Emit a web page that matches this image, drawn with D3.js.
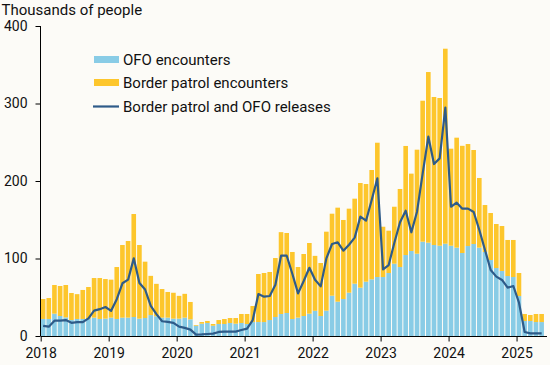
<!DOCTYPE html>
<html>
<head>
<meta charset="utf-8">
<script src="https://cdn.jsdelivr.net/npm/d3@7"></script>
<style>
  html, body { margin: 0; padding: 0; background: #fcfbf7; }
  svg { display: block; font-family: Roboto, "Liberation Sans", sans-serif; }
</style>
</head>
<body>
<svg id="chart" width="550" height="365"></svg>
<script>
// Months Jan 2018 – May 2025
const years = ["2018", "2019", "2020", "2021", "2022", "2023", "2024", "2025"];
const monthNames = ["Jan","Feb","Mar","Apr","May","Jun","Jul","Aug","Sep","Oct","Nov","Dec"];
const months = [];
years.forEach(y => monthNames.forEach((m, i) => { if (!(y === "2025" && i > 4)) months.push(m + " " + y); }));

// OFO encounters (thousands)
const ofo = [
  22, 22, 28.8, 25.8, 24, 20.6, 22, 22, 22, 23.7, 22, 22.4,
  23.7, 22, 23.7, 23.7, 24.5, 22.4, 23.2, 27, 25.4, 23.7, 23.7, 22.4,
  22.4, 23.7, 21.5, 13.3, 15.9, 16.8, 13.3, 15.5, 15.5, 16.8, 15.9, 16.8,
  15.5, 18, 18, 18, 20.6, 24.5, 28.4, 29.7, 21.9, 23.7, 25.8, 28.8,
  32.5, 25.8, 32.7, 52, 44.3, 47.7, 55.9, 67.5, 62.4, 70.1, 73.1, 76.1,
  76.1, 81.3, 93.3, 89, 104.5, 109.7, 106.2, 121.7, 120.4, 117.4, 116.5, 119.1,
  116.5, 114, 107.1, 116.1, 118.7, 114, 108.4, 98, 87.7, 83.9, 77.4, 76.1,
  51.6, 19.4, 19.4, 18, 18
];

// Border patrol encounters (thousands)
const borderPatrol = [
  25.7, 27, 37, 38.7, 41.8, 34.9, 32, 37.4, 41.2, 51.1, 52.8, 51.1,
  49, 67, 93.7, 98.9, 132.9, 95, 72.7, 50.6, 41.9, 36.9, 33.1, 33.4,
  29.4, 30.7, 22.4, 0.9, 2.1, 2.6, 2.2, 5.1, 6.4, 6.4, 7.3, 11.6,
  12.9, 20.7, 62, 63.3, 62, 76.1, 105.6, 103.2, 86.5, 65.3, 80, 91.2,
  70.9, 68.4, 101.9, 105.8, 121.3, 102, 108.4, 109.7, 135, 126, 141.1, 173.3,
  64.9, 54.6, 73.5, 100.7, 140.7, 99.8, 134.2, 181.9, 220.2, 191, 190.6, 251.6,
  125.2, 141.9, 138.3, 131.6, 121.3, 89.9, 60.6, 60.7, 56.8, 58, 46.5, 47.8,
  29.7, 9, 7.7, 10.4, 10.4
];

// Border patrol and OFO releases (thousands)
const releases = [
  13, 12, 19.8, 19.8, 20.6, 17, 18, 18, 22.8, 32.7, 34.6, 37.4,
  32.5, 47.5, 68, 72.7, 100.2, 68.4, 60, 39, 28.2, 19, 18.2, 17,
  12, 10.5, 8.2, 1.8, 2, 2.6, 3, 5.2, 5.6, 5.6, 5.6, 7.7,
  9.5, 20.6, 54.2, 50.8, 51.6, 66.2, 103.6, 103.6, 80, 55, 71, 88,
  72.5, 64, 100.2, 118.7, 120.9, 110.1, 117.8, 126.9, 154, 148.8, 175.5, 203.5,
  86, 91.6, 120.4, 146.7, 161.7, 133.8, 160.4, 209.9, 257.2, 221.9, 229.2, 294.6,
  166.8, 172, 164.3, 164.3, 160, 136.8, 111, 85.2, 76.6, 72.3, 62.4, 64.5,
  43, 5.2, 3.4, 3.4, 3.4
];

const yTicks = [0, 100, 200, 300, 400];
const yTitle = "Thousands of people";
const legendLabels = ["OFO encounters", "Border patrol encounters", "Border patrol and OFO releases"];

const colors = { ofo: "#89cce6", bp: "#fdc62c", line: "#2e5b89", text: "#111", axis: "#000" };

const svg = d3.select("#chart");
const n = months.length;

const x = d3.scaleLinear().domain([0, n]).range([40.7, 40.7 + n * 5.665]);
const y = d3.scaleLinear().domain([0, 400]).range([336, 26]);

// Bars
const stackData = months.map((m, i) => ({ i, ofo: ofo[i], bp: borderPatrol[i] }));
const stack = d3.stack().keys(["ofo", "bp"])(stackData);
const gap = 1.05;
svg.append("g").selectAll("g").data(stack).join("g")
  .attr("fill", d => d.key === "ofo" ? colors.ofo : colors.bp)
  .selectAll("rect").data(d => d).join("rect")
  .attr("x", d => x(d.data.i) + 0.1)
  .attr("width", d => x(d.data.i + 1) - x(d.data.i) - gap)
  .attr("y", d => y(d[1]))
  .attr("height", d => y(d[0]) - y(d[1]));

// Line
const line = d3.line().x((d, i) => x(i + 0.5) - 0.4).y(d => y(d)).curve(d3.curveLinear);
svg.append("path").datum(releases)
  .attr("fill", "none").attr("stroke", colors.line).attr("stroke-width", 2.2)
  .attr("stroke-linejoin", "round").attr("d", line);

// Y axis
const yAxis = d3.axisLeft(y).tickValues(yTicks).tickSize(5).tickPadding(8).tickFormat(d3.format("d"));
const gy = svg.append("g").attr("transform", "translate(40.5,0)").call(yAxis);
gy.select(".domain").attr("d", "M0," + y(400) + "V" + y(0));
gy.selectAll("text").attr("font-size", 14).attr("fill", colors.text).attr("font-family", "Roboto, sans-serif");

// X axis
const yearIdx = years.map((yr, k) => k * 12);
const xAxis = d3.axisBottom(x).tickValues(yearIdx).tickSize(5).tickPadding(7).tickFormat((d, k) => years[k]);
const gx = svg.append("g").attr("transform", "translate(0," + (y(0) + 0.5) + ")").call(xAxis);
gx.select(".domain").attr("d", "M" + x(0) + ",0H547");
gx.selectAll("text").attr("font-size", 14).attr("fill", colors.text).attr("font-family", "Roboto, sans-serif");

// Title
svg.append("text").attr("x", 1.5).attr("y", 15).attr("font-size", 15).attr("fill", colors.text).text(yTitle);

// Legend
const lg = svg.append("g");
const ly = [59.5, 82.5, 106.5];
lg.append("rect").attr("x", 94).attr("y", ly[0] - 3.5).attr("width", 25).attr("height", 7).attr("fill", colors.ofo);
lg.append("rect").attr("x", 94).attr("y", ly[1] - 3.5).attr("width", 25).attr("height", 7).attr("fill", colors.bp);
lg.append("line").attr("x1", 93).attr("x2", 119).attr("y1", ly[2]).attr("y2", ly[2]).attr("stroke", colors.line).attr("stroke-width", 2.2);
legendLabels.forEach((t, k) => {
  lg.append("text").attr("x", 123).attr("y", ly[k]).attr("dy", "0.35em").attr("font-size", 15).attr("fill", colors.text).text(t);
});
</script>
</body>
</html>
